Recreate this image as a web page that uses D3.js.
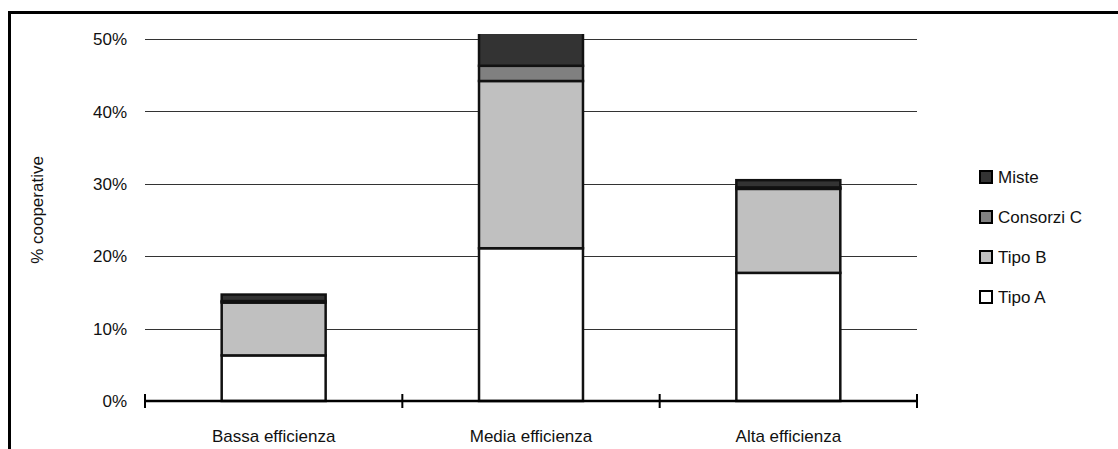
<!DOCTYPE html>
<html lang="it">
<head>
<meta charset="utf-8">
<script src="https://d3js.org/d3.v7.min.js"></script>
<style>
  body { margin: 0; background: white; }
  svg { font-family: "Liberation Sans", Arial, sans-serif; }
  .grid line { stroke: #333; stroke-width: 1px; }
  .bar rect { stroke: #111; stroke-width: 2.5px; }
</style>
</head>
<body>
<svg width="1118" height="449"></svg>
<script>
// valori (%)
var categories = ["Bassa efficienza", "Media efficienza", "Alta efficienza"];
var seriesNames = ["Tipo A", "Tipo B", "Consorzi C", "Miste"];
var tipoA     = [6.3, 21.1, 17.7];
var tipoB     = [7.3, 23.1, 11.6];
var consorziC = [0.2, 2.1, 0.2];
var miste     = [0.9, 5.0, 1.0];
var yTicks = [0, 10, 20, 30, 40, 50];
var colors = ["#ffffff", "#c0c0c0", "#808080", "#333333"];

var svg = d3.select("svg");

var table = categories.map(function (c, i) {
  return { cat: c, "Tipo A": tipoA[i], "Tipo B": tipoB[i], "Consorzi C": consorziC[i], "Miste": miste[i] };
});
var stacked = d3.stack().keys(seriesNames)(table);

var x = d3.scaleBand().domain(categories).range([145, 917])
    .paddingInner(0.596).paddingOuter(0.298);
var y = d3.scaleLinear().domain([0, 50]).range([401, 39]);

// cornice
svg.append("path")
    .attr("d", "M9.5,449 V12.5 H1118")
    .attr("fill", "none").attr("stroke", "#000").attr("stroke-width", 3);

// griglia
svg.append("g").attr("class", "grid")
  .selectAll("line").data(yTicks.slice(1)).enter().append("line")
    .attr("x1", 145).attr("x2", 917)
    .attr("y1", d => Math.round(y(d)) + 0.5).attr("y2", d => Math.round(y(d)) + 0.5);

// etichette asse y
svg.append("g").selectAll("text").data(yTicks).enter().append("text")
    .attr("x", 127).attr("y", d => y(d)).attr("dy", "0.36em")
    .attr("text-anchor", "end").attr("font-size", "17px").attr("fill", "#111")
    .text(d => d + "%");

svg.append("text")
    .attr("transform", "translate(43," + 210 + ") rotate(-90)")
    .attr("text-anchor", "middle").attr("font-size", "17px").attr("fill", "#111")
    .text("% cooperative");

// barre
svg.append("clipPath").attr("id", "plot")
  .append("rect").attr("x", 0).attr("y", 34).attr("width", 1118).attr("height", 380);

svg.append("g").attr("class", "bar").attr("clip-path", "url(#plot)")
  .selectAll("g").data(stacked).enter().append("g")
    .attr("fill", (d, i) => colors[i])
  .selectAll("rect").data(d => d).enter().append("rect")
    .attr("x", d => x(d.data.cat))
    .attr("width", x.bandwidth())
    .attr("y", d => y(d[1]))
    .attr("height", d => y(d[0]) - y(d[1]));

// asse x
var step = x.step();
var bounds = d3.range(categories.length + 1).map(i => 145 + i * step);
svg.append("line")
    .attr("x1", 145).attr("x2", 917).attr("y1", 401).attr("y2", 401)
    .attr("stroke", "#000").attr("stroke-width", 2.5);
svg.append("g").selectAll("line").data(bounds).enter().append("line")
    .attr("x1", d => d).attr("x2", d => d).attr("y1", 394).attr("y2", 408)
    .attr("stroke", "#000").attr("stroke-width", 2);

svg.append("g").selectAll("text").data(categories).enter().append("text")
    .attr("x", d => x(d) + x.bandwidth() / 2).attr("y", 442)
    .attr("text-anchor", "middle").attr("font-size", "17px").attr("fill", "#111")
    .text(d => d);

// legenda (ordine inverso)
var legend = svg.append("g").selectAll("g").data(seriesNames.slice().reverse()).enter().append("g")
    .attr("transform", (d, i) => "translate(980," + (177 + i * 40) + ")");
legend.append("rect")
    .attr("x", 0).attr("y", -6).attr("width", 12).attr("height", 12)
    .attr("fill", d => colors[seriesNames.indexOf(d)])
    .attr("stroke", "#000").attr("stroke-width", 2);
legend.append("text")
    .attr("x", 18).attr("y", 0).attr("dy", "0.36em")
    .attr("font-size", "17px").attr("fill", "#111")
    .text(d => d);
</script>
</body>
</html>
